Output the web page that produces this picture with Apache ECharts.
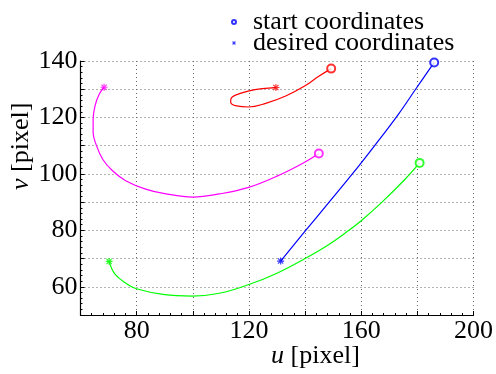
<!DOCTYPE html>
<html><head><meta charset="utf-8">
<script src="https://cdn.jsdelivr.net/npm/echarts@6/dist/echarts.min.js"></script>
<style>html,body{margin:0;padding:0;background:#fff}#c{width:496px;height:374px}</style>
</head><body><div id="c"></div>
<script>
// Curve data (u, v) in pixels
const blueU = [131.3, 140.0, 148.5, 156.7, 165.0, 173.3, 179.8, 186.0];
const blueV = [69.1, 79.7, 89.9, 99.8, 110.3, 121.2, 130.6, 139.5];
const redU = [149.3, 144.9, 140.0, 133.1, 126.0, 119.9, 115.6, 113.5, 113.6, 115.2, 120.1, 124.8, 129.6];
const redV = [137.3, 134.6, 131.2, 127.6, 125.0, 123.7, 124.1, 125.4, 126.6, 127.9, 129.4, 130.2, 130.6];
const magU = [144.9, 140.0, 130.7, 119.9, 109.5, 100.0, 90.0, 83.2, 76.1, 71.4, 67.9, 65.7, 64.5, 64.5, 65.2, 66.7, 68.4];
const magV = [107.2, 104.2, 99.5, 95.2, 92.9, 91.8, 93.0, 94.6, 97.6, 101.1, 105.2, 110.0, 114.7, 119.4, 124.2, 128.3, 130.7];
const greenU = [180.8, 175.7, 167.4, 160.0, 155.6, 148.5, 140.0, 130.0, 120.0, 109.5, 99.8, 89.4, 79.9, 76.4, 72.2, 70.2];
const greenV = [103.9, 98.2, 90.0, 83.4, 80.0, 75.0, 70.0, 64.8, 60.8, 57.7, 56.7, 57.3, 59.3, 61.1, 64.6, 69.0];
// start = circle, desired = star
const curves = [
  {u: blueU, v: blueV, color: '#0000ff', startFirst: false},
  {u: redU, v: redV, color: '#ff0000', startFirst: true},
  {u: magU, v: magV, color: '#ff00ff', startFirst: true},
  {u: greenU, v: greenV, color: '#00ff00', startFirst: true}
];
const legendNames = ['start coordinates', 'desired coordinates'];
const xTicks = {min: 60, max: 200, interval: 20};
const yTicks = {min: 50, max: 140, interval: 10};

const STAR = 'path://M4.2,0H5.8V10H4.2Z M0,4.2H10V5.8H0Z M0.7,1.8L1.8,0.7L9.3,8.2L8.2,9.3Z M8.2,0.7L9.3,1.8L1.8,9.3L0.7,8.2Z';
const FONT = 'Liberation Serif';

const series = [];
curves.forEach(c => {
  const pts = c.u.map((x, i) => [x, c.v[i]]);
  series.push({type: 'line', data: pts, smooth: 0.4, symbol: 'none', silent: true,
    lineStyle: {color: c.color, width: 1.2}, z: 3});
  const s = c.startFirst ? pts[0] : pts[pts.length - 1];
  const d = c.startFirst ? pts[pts.length - 1] : pts[0];
  series.push({type: 'scatter', data: [s], symbol: 'emptyCircle', symbolSize: 8,
    itemStyle: {color: c.color, borderColor: c.color, borderWidth: 1}, z: 4});
  series.push({type: 'scatter', data: [d], symbol: STAR, symbolSize: 7, symbolKeepAspect: true,
    itemStyle: {color: c.color}, z: 4});
});
series.push({name: legendNames[0], type: 'scatter', data: [], symbol: 'emptyCircle',
  itemStyle: {color: '#0000ff', borderColor: '#0000ff', borderWidth: 1}});
series.push({name: legendNames[1], type: 'scatter', data: [], symbol: STAR, symbolKeepAspect: true,
  itemStyle: {color: '#0000ff'}});

const chart = echarts.init(document.getElementById('c'), null, {renderer: 'canvas'});
const axisCommon = {
  type: 'value',
  axisLine: {show: true, lineStyle: {color: '#000', width: 1.2}},
  axisTick: {show: true, inside: true, length: 4, lineStyle: {color: '#000'}},
  minorTick: {show: true, splitNumber: 5, length: 2, lineStyle: {color: '#000'}},
  splitLine: {show: true, lineStyle: {color: '#666', type: [1, 3], width: 1}},
  axisLabel: {color: '#000', fontFamily: FONT, fontSize: 26}
};
chart.setOption({
  animation: false,
  backgroundColor: '#fff',
  textStyle: {fontFamily: FONT},
  grid: {left: 80.5, right: 21, top: 61, bottom: 59, containLabel: false},
  xAxis: Object.assign({}, axisCommon, {
    min: xTicks.min, max: xTicks.max, interval: xTicks.interval,
    axisLabel: Object.assign({}, axisCommon.axisLabel, {margin: 3,
      formatter: v => (v % 40 === 0 ? String(v) : '')})
  }),
  yAxis: Object.assign({}, axisCommon, {
    min: yTicks.min, max: yTicks.max, interval: yTicks.interval,
    axisLabel: Object.assign({}, axisCommon.axisLabel, {margin: 3,
      formatter: v => (v % 20 === 0 ? String(v) : '')})
  }),
  legend: {
    data: legendNames, orient: 'vertical', left: 226, top: 4,
    itemWidth: 28, itemHeight: 4, itemGap: -5,
    textStyle: {fontFamily: FONT, fontSize: 26, color: '#000', lineHeight: 21},
    selectedMode: false
  },
  graphic: [
    {type: 'text', left: 271, top: 343, style: {
      text: '{i|u} [pixel]', fontFamily: FONT, fontSize: 26, fill: '#000',
      rich: {i: {fontStyle: 'italic', fontFamily: FONT, fontSize: 26}}}},
    {type: 'text', rotation: Math.PI / 2, x: 8, y: 190, style: {
      text: '{i|v} [pixel]', fontFamily: FONT, fontSize: 26, fill: '#000',
      rich: {i: {fontStyle: 'italic', fontFamily: FONT, fontSize: 26}}}}
  ],
  series: series
});
</script></body></html>
